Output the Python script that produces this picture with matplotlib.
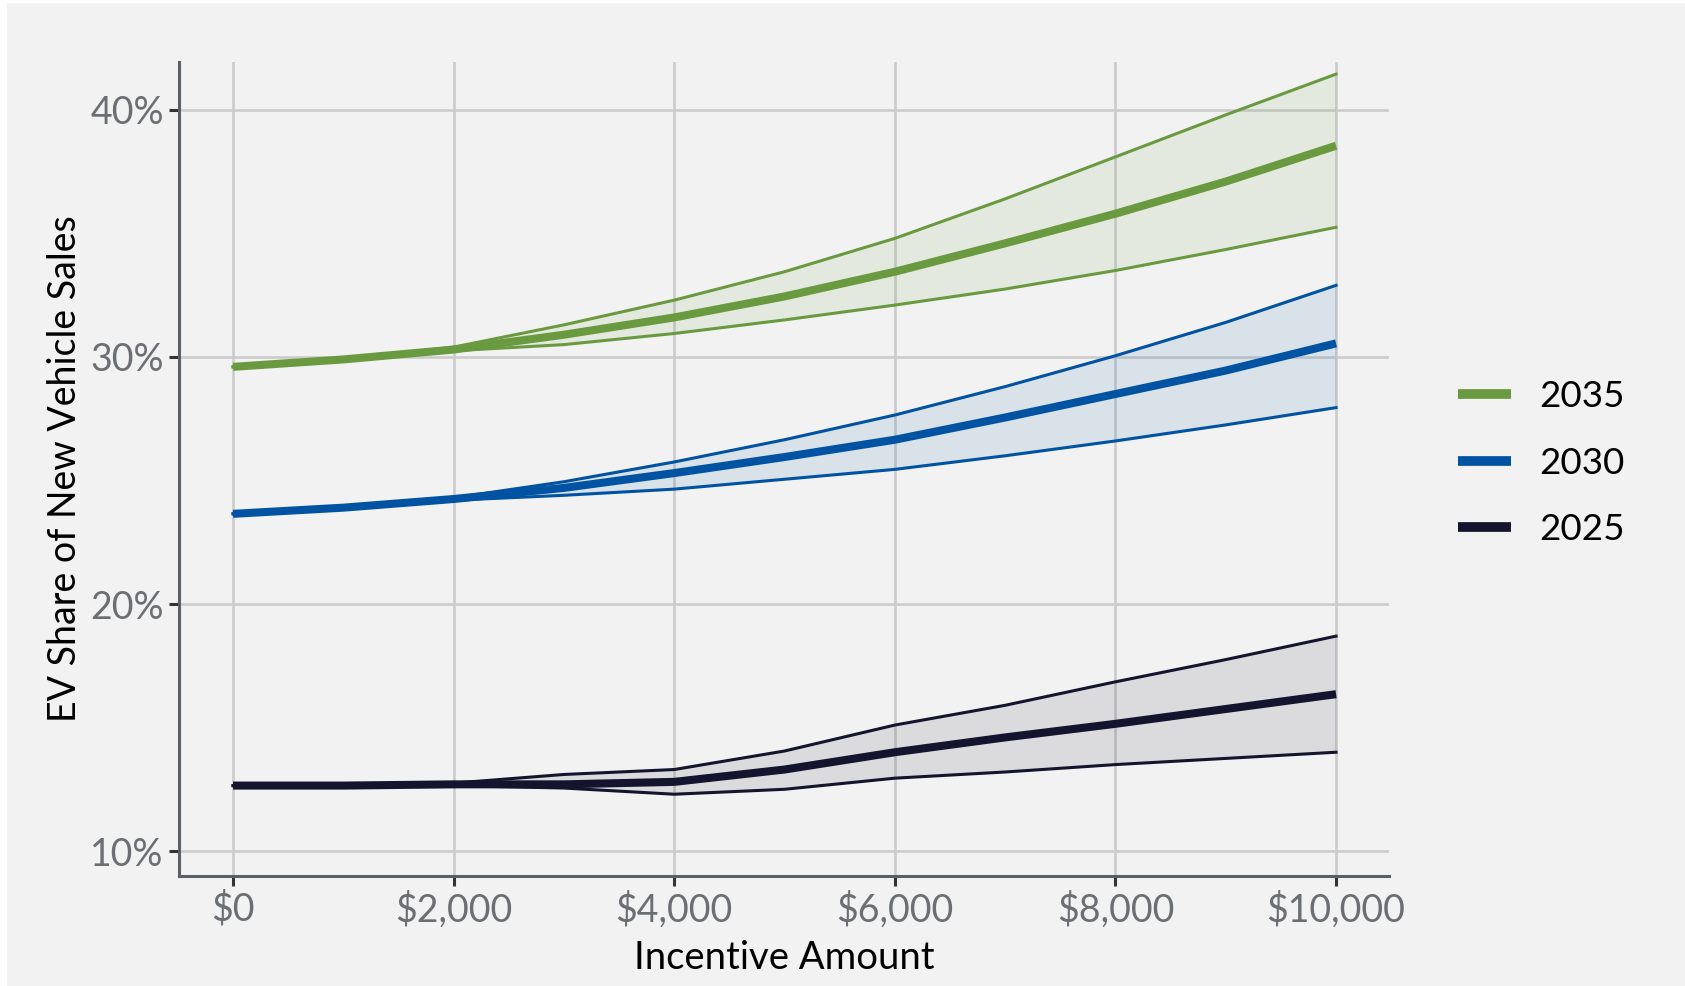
import matplotlib
matplotlib.use("Agg")
import matplotlib.pyplot as plt
from matplotlib.patches import Rectangle
from matplotlib.ticker import FuncFormatter

plt.rcParams['font.family'] = ['Lato', 'DejaVu Sans']

# incentive amounts ($)
incentive = [0, 1000, 2000, 3000, 4000, 5000, 6000, 7000, 8000, 9000, 10000]

# EV share of new vehicle sales (%), central estimate with high/low bounds
share_2035 = [29.6, 29.9, 30.3, 30.9, 31.6, 32.45, 33.45, 34.6, 35.8, 37.1, 38.55]
high_2035 = [29.6, 29.9, 30.4, 31.3, 32.3, 33.45, 34.8, 36.4, 38.1, 39.8, 41.45]
low_2035 = [29.6, 29.9, 30.25, 30.5, 30.95, 31.5, 32.1, 32.75, 33.5, 34.35, 35.25]

share_2030 = [23.65, 23.9, 24.25, 24.7, 25.3, 25.95, 26.65, 27.55, 28.5, 29.45, 30.55]
high_2030 = [23.65, 23.9, 24.3, 24.95, 25.75, 26.65, 27.65, 28.8, 30.05, 31.4, 32.9]
low_2030 = [23.65, 23.9, 24.2, 24.4, 24.65, 25.05, 25.45, 26.0, 26.6, 27.25, 27.95]

share_2025 = [12.65, 12.65, 12.7, 12.7, 12.8, 13.3, 14.0, 14.6, 15.15, 15.75, 16.35]
high_2025 = [12.65, 12.65, 12.75, 13.1, 13.3, 14.05, 15.1, 15.9, 16.85, 17.75, 18.7]
low_2025 = [12.65, 12.65, 12.65, 12.55, 12.3, 12.5, 12.95, 13.2, 13.5, 13.75, 14.0]

years = ['2035', '2030', '2025']
colors = ['#6a9a40', '#0052a3', '#14142e']
centers = [share_2035, share_2030, share_2025]
highs = [high_2035, high_2030, high_2025]
lows = [low_2035, low_2030, low_2025]

bg = '#f2f2f2'
fig = plt.figure(figsize=(16.85, 9.86), dpi=100)
fig.patch.set_facecolor('white')
fig.patches.append(Rectangle((7 / 1685, 0), 1, 1 - 3 / 986, transform=fig.transFigure,
                             facecolor=bg, edgecolor='none', zorder=-10))

ax = fig.add_axes([179 / 1685, 1 - 876 / 986, (1389 - 179) / 1685, (876 - 62) / 986])
ax.set_facecolor(bg)

for yr, c, mid, hi, lo in zip(years, colors, centers, highs, lows):
    ax.fill_between(incentive, lo, hi, color=c, alpha=0.1, linewidth=0, zorder=2)
    ax.plot(incentive, hi, color=c, lw=2.2, zorder=3)
    ax.plot(incentive, lo, color=c, lw=2.2, zorder=3)
    ax.plot(incentive, mid, color=c, lw=5.8, zorder=4, label=yr, solid_capstyle='butt')

ax.set_xlim(-490, 10480)
ax.set_ylim(8.99, 41.94)
ax.set_xticks(range(0, 10001, 2000))
ax.set_yticks([10, 20, 30, 40])
ax.xaxis.set_major_formatter(FuncFormatter(lambda v, p: f"${v:,.0f}"))
ax.yaxis.set_major_formatter(FuncFormatter(lambda v, p: f"{v:.0f}%"))

ax.grid(True, color='#cccccc', lw=1.9, zorder=1)
ax.set_axisbelow(True)
for s in ['top', 'right']:
    ax.spines[s].set_visible(False)
for s in ['left', 'bottom']:
    ax.spines[s].set_color('#5b5f66')
    ax.spines[s].set_linewidth(2.2)
ax.tick_params(axis='both', length=7, width=2.2, color='#333333',
               labelcolor='#6b6e73', labelsize=27, pad=4)

ax.set_xlabel('Incentive Amount', fontsize=27.5, color='black', labelpad=8)
ax.set_ylabel('EV Share of New Vehicle Sales', fontsize=27, color='black', labelpad=5)

leg = ax.legend(loc='center left', bbox_to_anchor=(1425 / 1685, 1 - 463 / 986),
                bbox_transform=fig.transFigure, frameon=False, fontsize=26.5,
                handlelength=1.45, handletextpad=0.75, labelspacing=0.92)
for h in leg.get_lines():
    h.set_linewidth(7)

fig.savefig('out.png', dpi=100, facecolor=fig.get_facecolor())
